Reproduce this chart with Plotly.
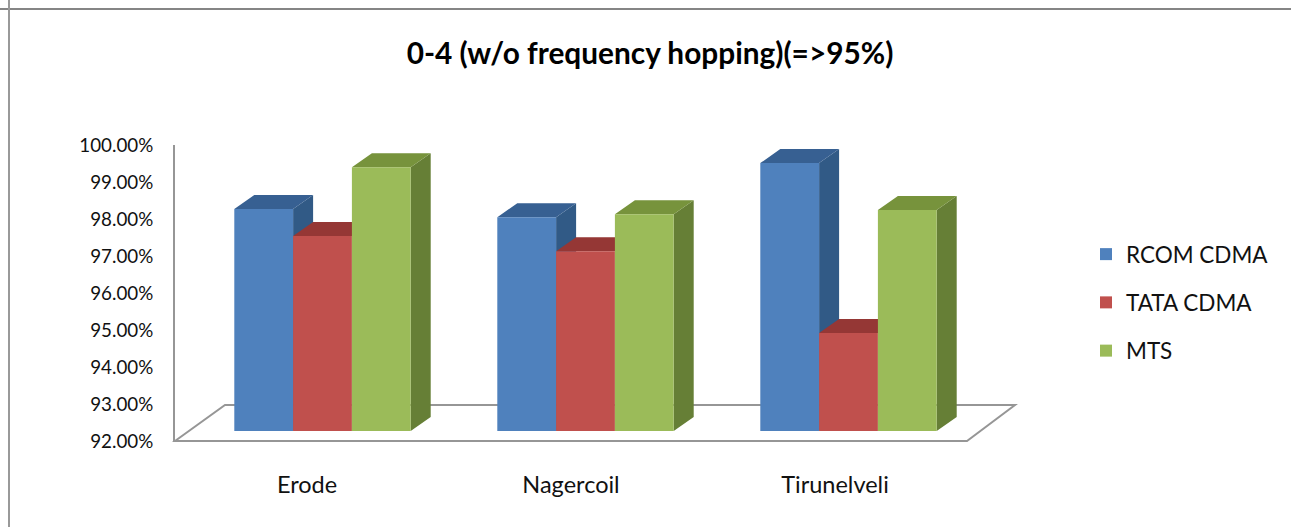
import plotly.graph_objects as go

# ---- data (percent) ----
categories = ["Erode", "Nagercoil", "Tirunelveli"]
series_names = ["RCOM CDMA", "TATA CDMA", "MTS"]
rcom_cdma = [98.00, 97.78, 99.24]
tata_cdma = [97.27, 96.86, 94.65]
mts = [99.13, 97.86, 97.97]
series_values = [rcom_cdma, tata_cdma, mts]
title_text = "0-4 (w/o frequency hopping)(=>95%)"

# ---- style ----
front = ["#4F81BD", "#C0504D", "#9BBB59"]
top = ["#376092", "#953735", "#77933C"]
side = ["#315A86", "#8C3533", "#667F36"]
W, H = 1291, 527
FONT = "Lato"
GRAY = "#969696"

# plot box in pixels
L, R, T, B = 175, 967, 145, 441
BAR_L, BAR_R = 191, 980                  # bars stand in the middle of the floor
BAR_SHIFT_Y = 10
px_per_cat = (BAR_R - BAR_L) / 3
px_per_pct = (B - T) / 8
BAR_W = 58.8 / px_per_cat
DEPTH_X = 20 / px_per_cat                # 3-D depth of a bar
DEPTH_Y = 14 / px_per_pct
XRANGE = [-0.5, 2.5]
YRANGE = [92, 100]


def ydom(shift=0):
    return [1 - (B - shift) / H, 1 - (T - shift) / H]


def floor_path():
    pts = [(L, B), (L + 50, B - 36), (R + 48, B - 36), (R, B)]
    return "M " + " L ".join(f"{x / W:.5f} {1 - y / H:.5f}" for x, y in pts) + " Z"


fig = go.Figure()

# empty trace so that the labelled axes are drawn
fig.add_trace(go.Scatter(x=[None], y=[None], mode="lines", showlegend=False, hoverinfo="skip"))

# depth faces, on the lower of the two bar layers
for s, (name, vals) in enumerate(zip(series_names, series_values)):
    tx, ty, sx, sy = [], [], [], []
    for c, v in enumerate(vals):
        x0 = c - 1.5 * BAR_W + s * BAR_W
        x1 = x0 + BAR_W
        tx += [x0, x0 + DEPTH_X, x1 + DEPTH_X, x1, x0, None]
        ty += [v, v + DEPTH_Y, v + DEPTH_Y, v, v, None]
        sx += [x1, x1 + DEPTH_X, x1 + DEPTH_X, x1, x1, None]
        sy += [YRANGE[0], YRANGE[0] + DEPTH_Y, v + DEPTH_Y, v, YRANGE[0], None]
    for xs, ys, col in ((sx, sy, side[s]), (tx, ty, top[s])):
        fig.add_trace(go.Scatter(x=xs, y=ys, mode="lines", fill="toself", fillcolor=col,
                                 line=dict(width=0, color=col), showlegend=False,
                                 hoverinfo="skip", xaxis="x2", yaxis="y2"))

# front faces
for s, (name, vals) in enumerate(zip(series_names, series_values)):
    fig.add_trace(go.Bar(x=list(range(len(categories))), y=vals, name=name,
                         width=BAR_W, offset=-1.5 * BAR_W + s * BAR_W,
                         marker=dict(color=front[s], line=dict(width=0)),
                         showlegend=False, xaxis="x3", yaxis="y3"))

# legend entries with square swatches
for s, name in enumerate(series_names):
    fig.add_trace(go.Scatter(x=[None], y=[None], mode="markers", name=name, legendgroup=name,
                             marker=dict(symbol="square", size=15, color=front[s]),
                             xaxis="x3", yaxis="y3"))

hidden = dict(visible=False, fixedrange=True, automargin=False)
bar_xdom = [BAR_L / W, BAR_R / W]
fig.update_layout(
    width=W, height=H, margin=dict(l=0, r=0, t=0, b=0),
    paper_bgcolor="white", plot_bgcolor="rgba(0,0,0,0)",
    font=dict(family=FONT, color="#111111"),
    title=dict(text=f"<b>{title_text}</b>", x=650 / W, xanchor="center", y=1 - 54 / H,
               yanchor="middle", font=dict(family=FONT, size=29.8, color="#000000")),
    xaxis=dict(domain=[L / W, R / W], range=XRANGE, tickvals=list(range(len(categories))),
               ticktext=categories, showgrid=False, zeroline=False, showline=False,
               ticks="outside", ticklen=23, tickcolor="rgba(0,0,0,0)",
               tickfont=dict(size=23.5), fixedrange=True, automargin=False),
    yaxis=dict(domain=ydom(), range=YRANGE, dtick=1, tickformat=".2f", ticksuffix="%",
               showgrid=False, zeroline=False, showline=True, linecolor=GRAY, linewidth=2,
               ticks="outside", ticklen=16, tickcolor="rgba(0,0,0,0)",
               tickfont=dict(size=18.8), fixedrange=True, automargin=False),
    xaxis2=dict(domain=bar_xdom, range=XRANGE, anchor="y2", **hidden),
    yaxis2=dict(domain=ydom(BAR_SHIFT_Y), range=YRANGE, anchor="x2", **hidden),
    xaxis3=dict(domain=bar_xdom, range=XRANGE, anchor="y3", **hidden),
    yaxis3=dict(domain=ydom(BAR_SHIFT_Y), range=YRANGE, anchor="x3", **hidden),
    legend=dict(x=1086 / W, xanchor="left", y=1 - 233 / H, yanchor="top",
                font=dict(family=FONT, size=22.5), tracegroupgap=16,
                bgcolor="rgba(0,0,0,0)", itemsizing="constant"),
    shapes=[
        # chart frame (top and left only)
        dict(type="line", xref="paper", yref="paper", x0=0, x1=1, y0=1 - 9 / H, y1=1 - 9 / H,
             line=dict(color="#858585", width=2)),
        dict(type="line", xref="paper", yref="paper", x0=9 / W, x1=9 / W, y0=0, y1=1,
             line=dict(color="#999999", width=2)),
        # floor of the 3-D box
        dict(type="path", xref="paper", yref="paper", layer="below", fillcolor="white",
             line=dict(color=GRAY, width=2), path=floor_path()),
    ],
)

fig.write_html("out.html", config={"displayModeBar": False},
               post_script="document.body.style.margin='0';")
